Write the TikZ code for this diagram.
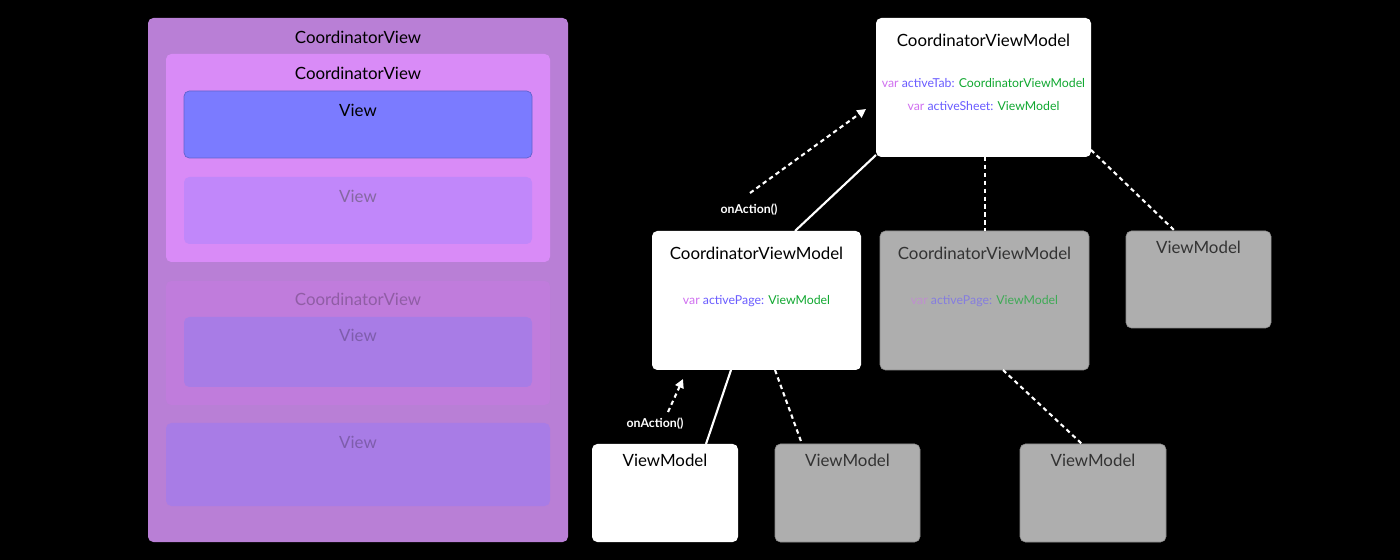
\documentclass[tikz,border=0pt]{standalone}
\usepackage{fontspec}
\setmainfont{Lato}
\usetikzlibrary{arrows.meta}
\definecolor{outer}{HTML}{B97FD6}
\definecolor{innerc}{HTML}{D98BF7}
\definecolor{viewa}{HTML}{7B7BFF}
\definecolor{viewb}{HTML}{C187FA}
\definecolor{fadec}{HTML}{C07CDC}
\definecolor{viewc}{HTML}{A87CE6}
\definecolor{grayb}{HTML}{AEAEAE}
\definecolor{kw}{HTML}{D070F0}
\definecolor{idn}{HTML}{6A5CFF}
\definecolor{typ}{HTML}{10A830}
\begin{document}
\begin{tikzpicture}[x=0.02cm,y=-0.02cm,
  box/.style={rounded corners=3pt,draw=none},
  lbl/.style={font=\fontsize{9.6}{11}\selectfont,anchor=north},
  code/.style={font=\fontsize{7}{8}\selectfont,anchor=center},
  solidc/.style={white,line width=1.2pt},
  dashc/.style={white,line width=1.2pt,dash pattern=on 2.5pt off 2pt},
  act/.style={white,font=\bfseries\fontsize{7}{8}\selectfont}]
\fill[black] (0,0) rectangle (1400,560);
\useasboundingbox (0,0) rectangle (1400,560);
% left
\fill[box,outer] (148,18) rectangle (568,542);
\node[lbl] (t1) at (358,25) {CoordinatorView};
\fill[box,innerc] (166,54) rectangle (550,262);
\node[lbl] (t2) at (358,61) {CoordinatorView};
\fill[box,viewa,draw=viewa!80!black,line width=0.4pt] (184,91) rectangle (532,158);
\node[lbl] (t3) at (358,98) {View};
\fill[box,viewb] (184,177) rectangle (532,244);
\node[lbl,text=black!30!viewb!70!gray] (t4) at (358,184) {View};
\fill[box,fadec] (166,281) rectangle (550,405);
\node[lbl,text=black!25!fadec] (t5) at (358,287) {CoordinatorView};
\fill[box,viewc] (184,317) rectangle (532,387);
\node[lbl,text=black!25!viewc] (t6) at (358,323) {View};
\fill[box,viewc] (166,423) rectangle (550,506);
\node[lbl,text=black!25!viewc] (t7) at (358,430) {View};
% right nodes
\fill[box,white] (876,18) rectangle (1091,157);
\coordinate (A) at (983.5,87.5);
\node[lbl] at (983.5,28) {CoordinatorViewModel};
\node[code] at (983.5,83) {\textcolor{kw}{var} \textcolor{idn}{activeTab:} \textcolor{typ}{CoordinatorViewModel}};
\node[code] at (983.5,106) {\textcolor{kw}{var} \textcolor{idn}{activeSheet:} \textcolor{typ}{ViewModel}};
\fill[box,white] (652,231) rectangle (861,370);
\node[lbl] at (756.5,241) {CoordinatorViewModel};
\node[code] at (756.5,301) {\textcolor{kw}{var} \textcolor{idn}{activePage:} \textcolor{typ}{ViewModel}};
\fill[box,grayb,draw=grayb!80!black,line width=0.3pt] (880,231) rectangle (1089,370);
\node[lbl,text=black!80] at (984.5,241) {CoordinatorViewModel};
\node[code] at (984.5,301) {\textcolor{kw!50!grayb}{var} \textcolor{idn!60!grayb}{activePage:} \textcolor{typ!70!grayb}{ViewModel}};
\fill[box,grayb,draw=grayb!80!black,line width=0.3pt] (1126,231) rectangle (1271,328);
\node[lbl,text=black!80] at (1198.5,235) {ViewModel};
\fill[box,white] (592,444) rectangle (738,542);
\node[lbl] at (665,448) {ViewModel};
\fill[box,grayb,draw=grayb!80!black,line width=0.3pt] (775,444) rectangle (920,542);
\node[lbl,text=black!80] at (847.5,448) {ViewModel};
\fill[box,grayb,draw=grayb!80!black,line width=0.3pt] (1020,444) rectangle (1166,542);
\node[lbl,text=black!80] at (1093,448) {ViewModel};
% connectors
\coordinate (a1) at (876,155); \coordinate (b1) at (795,231);
\draw[solidc] (a1) -- (b1);
\coordinate (a2) at (985,157); \coordinate (b2) at (985,231);
\draw[dashc] (a2) -- (b2);
\coordinate (a3) at (1091,150); \coordinate (b3) at (1175,231);
\draw[dashc] (a3) -- (b3);
\coordinate (a4) at (731,370); \coordinate (b4) at (706,444);
\draw[solidc] (a4) -- (b4);
\coordinate (a5) at (775,370); \coordinate (b5) at (802,444);
\draw[dashc] (a5) -- (b5);
\coordinate (a6) at (1003,370); \coordinate (b6) at (1082,444);
\draw[dashc] (a6) -- (b6);
\coordinate (s1) at (750,193); \coordinate (e1) at (866,109);
\draw[dashc,-{Triangle[length=5pt,width=5pt]}] (s1) -- (e1);
\node[act] (l1) at (749,210) {onAction()};
\coordinate (s2) at (668,412); \coordinate (e2) at (683,379);
\draw[dashc,-{Triangle[length=5pt,width=5pt]}] (s2) -- (e2);
\node[act] (l2) at (655,424) {onAction()};
\end{tikzpicture}
\end{document}
